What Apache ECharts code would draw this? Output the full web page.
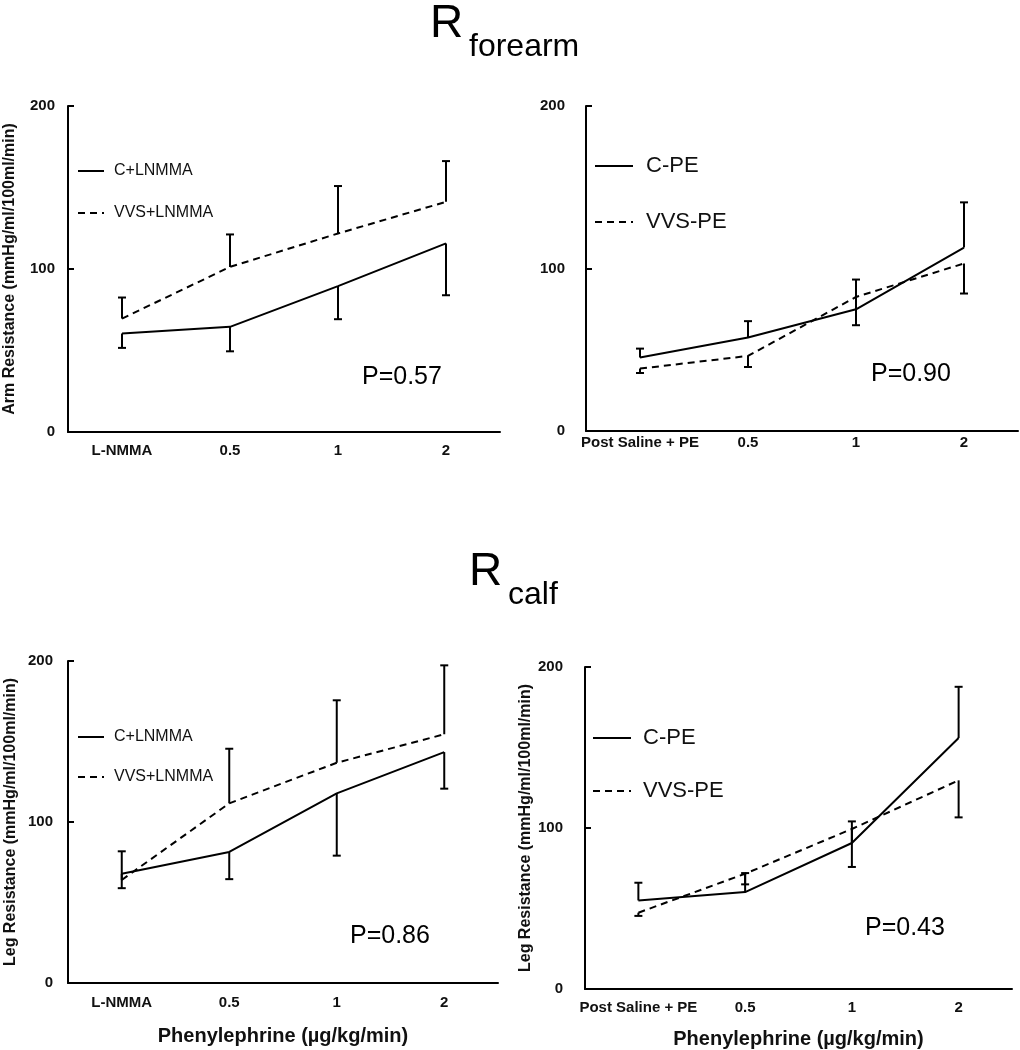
<!DOCTYPE html>
<html>
<head>
<meta charset="utf-8">
<script src="https://cdn.jsdelivr.net/npm/echarts@6/dist/echarts.min.js"></script>
<style>
html,body{margin:0;padding:0;background:#fff;}
#chart{width:1020px;height:1050px;}
</style>
</head>
<body>
<div id="chart"></div>
<script>
// ---- data ----
const catsArm = ['L-NMMA', '0.5', '1', '2'];
const catsPE = ['Post Saline + PE', '0.5', '1', '2'];

// Forearm, L-NMMA panel
const armC_LNMMA = [60.4, 64.5, 89.5, 115.7];
const armC_LNMMA_err = [51.6, 49.5, 69.2, 83.9];
const armVVS_LNMMA = [69.6, 101.3, 121.8, 141.2];
const armVVS_LNMMA_err = [82.5, 121.2, 150.9, 166.2];

// Forearm, PE panel
const armC_PE = [45.2, 57.5, 74.9, 112.9];
const armC_PE_err = [50.7, 67.6, 93.2, 140.7];
const armVVS_PE = [38.4, 46.2, 82.5, 103.1];
const armVVS_PE_err = [35.7, 39.4, 65.1, 84.6];

// Calf, L-NMMA panel
const legC_LNMMA = [67.8, 81.4, 117.8, 143.4];
const legC_LNMMA_err = [58.9, 64.5, 79.1, 120.7];
const legVVS_LNMMA = [64.0, 111.6, 136.8, 154.5];
const legVVS_LNMMA_err = [81.8, 145.5, 175.6, 197.3];

// Calf, PE panel
const legC_PE = [55.0, 60.2, 90.7, 155.9];
const legC_PE_err = [66.0, 72.0, 104.1, 187.7];
const legVVS_PE = [47.4, 71.6, 99.4, 129.6];
const legVVS_PE_err = [45.4, 65.0, 75.8, 106.6];

const pValues = ['P=0.57', 'P=0.90', 'P=0.86', 'P=0.43'];

// ---- chart ----
const FONT = 'Liberation Sans, Arial, sans-serif';
const chart = echarts.init(document.getElementById('chart'));

function errData(bounds, means) {
  return bounds.map((b, i) => [i, means[i], b]);
}
function errSeries(name, means, bounds, gi) {
  return {
    type: 'custom', name: name + ' SE', xAxisIndex: gi, yAxisIndex: gi,
    silent: true, z: 3,
    data: errData(bounds, means),
    renderItem: function (params, api) {
      const x = api.value(0), v = api.value(1), b = api.value(2);
      const p1 = api.coord([x, v]);
      const p2 = api.coord([x, b]);
      return {
        type: 'group',
        children: [
          { type: 'line', shape: { x1: p1[0], y1: p1[1], x2: p2[0], y2: p2[1] }, style: { stroke: '#000', lineWidth: 2 } },
          { type: 'line', shape: { x1: p2[0] - 4, y1: p2[1], x2: p2[0] + 4, y2: p2[1] }, style: { stroke: '#000', lineWidth: 2 } }
        ]
      };
    }
  };
}
function lineSeries(name, data, gi, dashed) {
  return {
    type: 'line', name: name, xAxisIndex: gi, yAxisIndex: gi,
    data: data, symbol: 'none', z: 2, animation: false,
    lineStyle: { color: '#000', width: 2, type: dashed ? [7, 5] : 'solid' },
    itemStyle: { color: '#000' }
  };
}

const grids = [
  { left: 68, top: 106, width: 432, height: 326 },
  { left: 586, top: 106, width: 432, height: 325 },
  { left: 68, top: 661, width: 430, height: 322 },
  { left: 585, top: 667, width: 427, height: 322 }
];

function xAxis(gi, cats, showName, labelMargin, nameGap) {
  return {
    type: 'category', gridIndex: gi, data: cats, boundaryGap: true,
    axisLine: { lineStyle: { color: '#000', width: 2 } },
    axisTick: { alignWithLabel: true, inside: true, length: 6, lineStyle: { color: '#000', width: 2 } },
    axisLabel: { color: '#111', fontFamily: FONT, fontWeight: 'bold', fontSize: 15, margin: labelMargin, interval: 0 },
    name: showName ? 'Phenylephrine (\u00b5g/kg/min)' : '',
    nameLocation: 'middle', nameGap: nameGap,
    nameTextStyle: { color: '#111', fontFamily: FONT, fontWeight: 'bold', fontSize: 20 }
  };
}
function yAxis(gi, name, labelMargin, nameGap) {
  return {
    type: 'value', gridIndex: gi, min: 0, max: 200, interval: 100,
    splitLine: { show: false },
    axisLine: { show: true, lineStyle: { color: '#000', width: 2 } },
    axisTick: { show: true, inside: true, length: 6, lineStyle: { color: '#000', width: 2 } },
    axisLabel: { color: '#111', fontFamily: FONT, fontWeight: 'bold', fontSize: 15, margin: labelMargin },
    name: name, nameLocation: 'middle', nameGap: nameGap,
    nameTextStyle: { color: '#111', fontFamily: FONT, fontWeight: 'bold', fontSize: 16 }
  };
}

function legend(names, left, top, fs, iw, gap, pad) {
  return {
    orient: 'vertical', left: left - 5, top: top - 5, data: names,
    itemWidth: iw, itemHeight: 10, itemGap: gap,
    selectedMode: false,
    itemStyle: { color: 'rgba(0,0,0,0)', borderWidth: 0, opacity: 0 },
    textStyle: { color: '#111', fontFamily: FONT, fontSize: fs, lineHeight: fs, padding: [0, 0, 0, pad] }
  };
}

const option = {
  backgroundColor: '#fff',
  animation: false,
  grid: grids,
  xAxis: [
    xAxis(0, catsArm, false, 11, 40),
    xAxis(1, catsPE, false, 4, 40),
    xAxis(2, catsArm, true, 12, 43),
    xAxis(3, catsPE, true, 11, 40)
  ],
  yAxis: [
    yAxis(0, 'Arm Resistance (mmHg/ml/100ml/min)', 13, 50),
    yAxis(1, '', 21, 50),
    yAxis(2, 'Leg Resistance (mmHg/ml/100ml/min)', 15, 49),
    yAxis(3, 'Leg Resistance (mmHg/ml/100ml/min)', 22, 49)
  ],
  legend: [
    legend(['C+LNMMA', 'VVS+LNMMA'], 77, 163, 16, 26, 26, 5),
    legend(['C-PE', 'VVS-PE'], 594, 155, 22, 38, 34, 8),
    legend(['C+LNMMA', 'VVS+LNMMA'], 77, 729, 16, 26, 24, 5),
    legend(['C-PE', 'VVS-PE'], 592, 727, 22, 38, 31, 7)
  ],
  graphic: [
    { type: 'text', left: 430, top: 1, style: { text: 'R', font: '46px ' + FONT, fill: '#000' } },
    { type: 'text', left: 469, top: 31, style: { text: 'forearm', font: '32px ' + FONT, fill: '#000' } },
    { type: 'text', left: 469, top: 549, style: { text: 'R', font: '46px ' + FONT, fill: '#000' } },
    { type: 'text', left: 508, top: 579, style: { text: 'calf', font: '32px ' + FONT, fill: '#000' } },
    { type: 'text', left: 362, top: 365, style: { text: pValues[0], font: '25px ' + FONT, fill: '#000' } },
    { type: 'text', left: 871, top: 362, style: { text: pValues[1], font: '25px ' + FONT, fill: '#000' } },
    { type: 'text', left: 350, top: 924, style: { text: pValues[2], font: '25px ' + FONT, fill: '#000' } },
    { type: 'text', left: 865, top: 916, style: { text: pValues[3], font: '25px ' + FONT, fill: '#000' } }
  ],
  series: [
    lineSeries('C+LNMMA', armC_LNMMA, 0, false),
    lineSeries('VVS+LNMMA', armVVS_LNMMA, 0, true),
    errSeries('C+LNMMA', armC_LNMMA, armC_LNMMA_err, 0),
    errSeries('VVS+LNMMA', armVVS_LNMMA, armVVS_LNMMA_err, 0),

    lineSeries('C-PE', armC_PE, 1, false),
    lineSeries('VVS-PE', armVVS_PE, 1, true),
    errSeries('C-PE', armC_PE, armC_PE_err, 1),
    errSeries('VVS-PE', armVVS_PE, armVVS_PE_err, 1),

    lineSeries('C+LNMMA', legC_LNMMA, 2, false),
    lineSeries('VVS+LNMMA', legVVS_LNMMA, 2, true),
    errSeries('C+LNMMA', legC_LNMMA, legC_LNMMA_err, 2),
    errSeries('VVS+LNMMA', legVVS_LNMMA, legVVS_LNMMA_err, 2),

    lineSeries('C-PE', legC_PE, 3, false),
    lineSeries('VVS-PE', legVVS_PE, 3, true),
    errSeries('C-PE', legC_PE, legC_PE_err, 3),
    errSeries('VVS-PE', legVVS_PE, legVVS_PE_err, 3)
  ]
};
chart.setOption(option);
</script>
</body>
</html>
